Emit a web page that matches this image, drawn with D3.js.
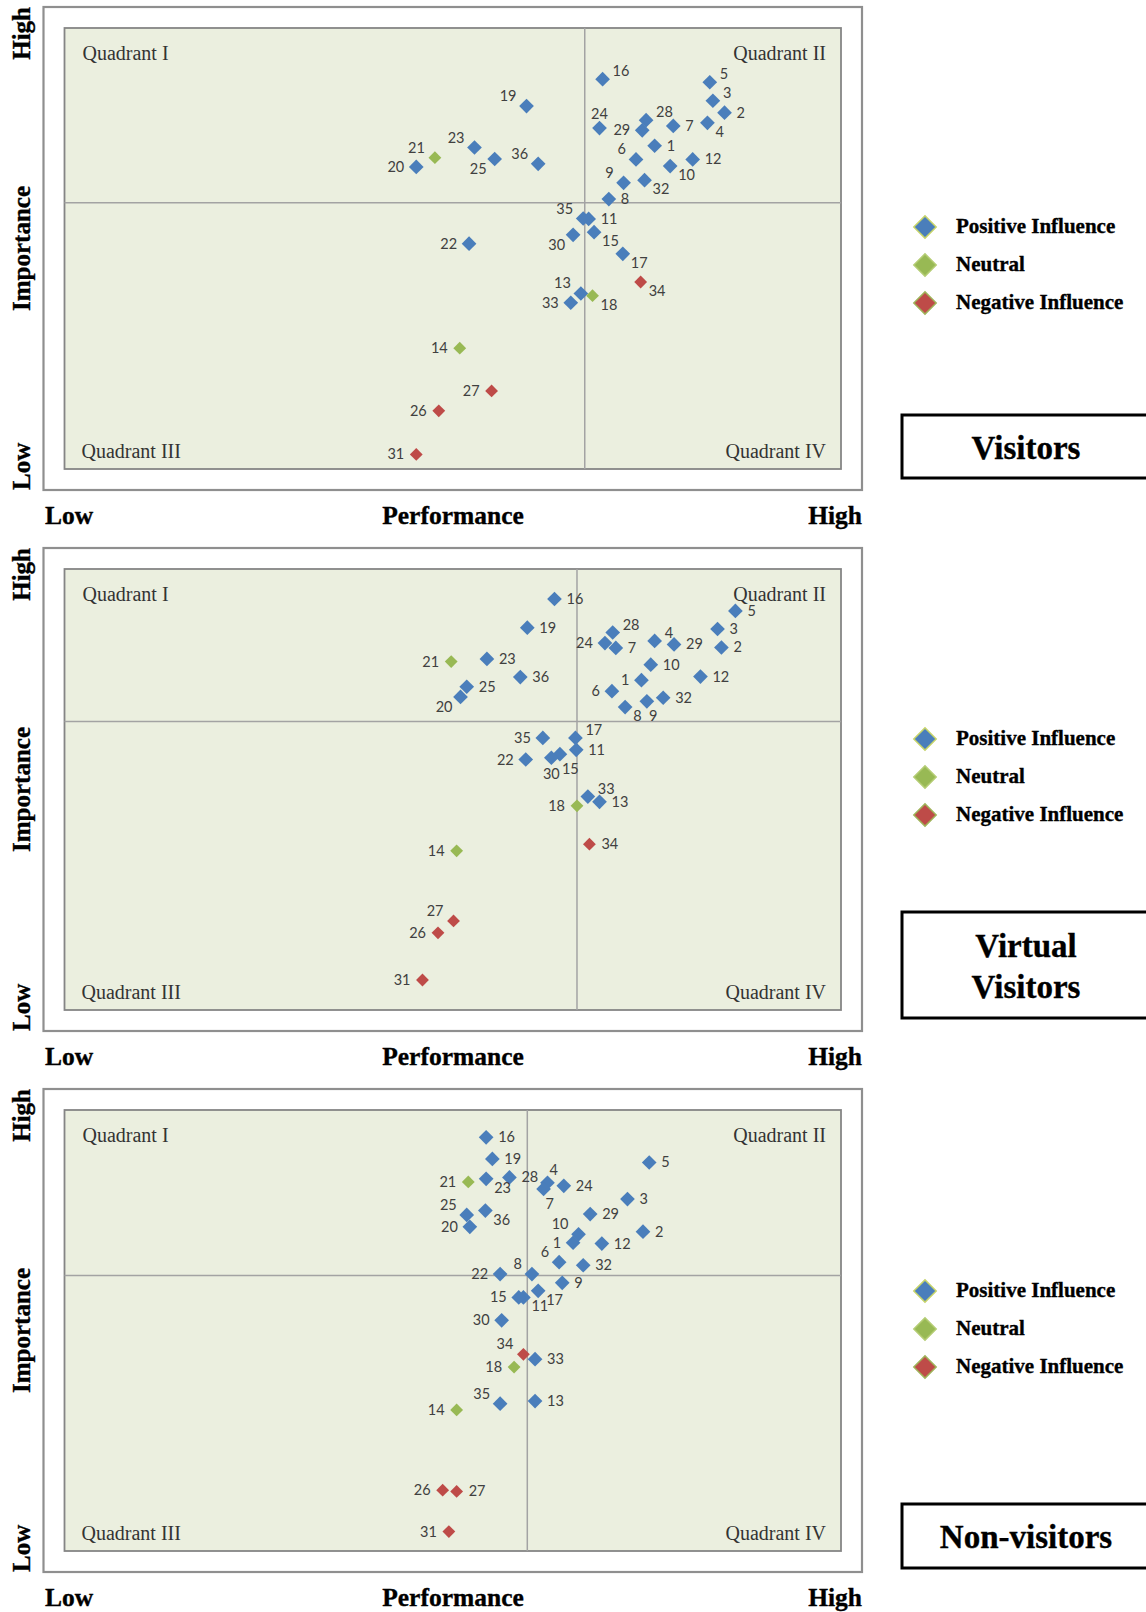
<!DOCTYPE html>
<html>
<head>
<meta charset="utf-8">
<script src="https://cdn.jsdelivr.net/npm/d3@7/dist/d3.min.js"></script>
<style>
  body { margin: 0; background: #fff; }
  .serif { font-family: "Liberation Serif", "Times New Roman", serif; }
  .head { font-weight: bold; fill: #000; stroke: #000; stroke-width: 0.35px; }
  .quad { font-size: 20px; fill: #333; }
  .pt-label { font-family: Lato, "Open Sans", sans-serif; font-size: 14.5px; fill: #404040; }
</style>
</head>
<body>
<script>
// items 1..36 and their influence group
var items = [1,2,3,4,5,6,7,8,9,10,11,12,13,14,15,16,17,18,19,20,21,22,23,24,25,26,27,28,29,30,31,32,33,34,35,36];
var influence = ["pos","pos","pos","pos","pos","pos","pos","pos","pos","pos","pos","pos","pos","neu","pos","pos","pos","neu",
                 "pos","pos","neu","pos","pos","pos","pos","neg","neg","pos","pos","pos","neg","pos","pos","neg","pos","pos"];
var groups = ["pos","neu","neg"];
var groupNames = ["Positive Influence","Neutral","Negative Influence"];

// performance / importance index (0 = low, 100 = high)
var visitorsPerf = [76.0,85.0,83.5,82.8,83.1,73.6,78.4,70.1,72.0,78.0,67.5,80.9,66.5,50.9,68.2,69.3,71.9,68.0,
                    59.5,45.3,47.7,52.1,52.8,68.9,55.4,48.2,55.0,74.9,74.4,65.5,45.3,74.7,65.2,74.2,66.8,61.0];
var visitorsImp  = [73.3,80.8,83.5,78.5,87.7,70.2,77.8,61.2,64.9,68.7,56.7,70.2,39.8,27.4,53.7,88.4,48.8,39.3,
                    82.3,68.5,70.6,51.1,72.9,77.3,70.3,13.2,17.7,79.1,76.8,53.1,3.3,65.5,37.7,42.4,56.8,69.2];
var visitorsMean = [67.0, 60.4];

var virtualPerf = [74.3,84.6,84.1,76.0,86.4,70.5,71.0,72.2,75.0,75.5,65.9,81.9,68.9,50.5,63.8,63.1,65.8,66.0,
                   59.6,51.0,49.8,59.4,54.4,69.6,51.8,48.1,50.1,70.6,78.5,62.7,46.1,77.1,67.4,67.6,61.6,58.7];
var virtualImp  = [74.8,82.2,86.4,83.7,90.5,72.3,82.1,68.7,70.0,78.3,59.0,75.6,47.2,36.1,58.0,93.2,61.7,46.3,
                   86.7,71.0,79.0,56.8,79.6,83.2,73.3,17.5,20.2,85.6,82.9,57.2,6.8,70.8,48.4,37.6,61.7,75.5];
var virtualMean = [66.0, 65.4];

var nonPerf = [65.5,74.5,72.5,62.2,75.3,63.7,61.7,60.2,64.1,66.2,59.1,69.2,60.6,50.5,58.5,54.3,61.0,57.9,
               55.1,52.2,52.0,56.1,54.3,64.3,51.8,48.7,50.5,57.3,67.7,56.3,49.5,66.8,60.6,59.1,56.1,54.2];
var nonImp  = [69.9,72.4,79.8,83.5,88.1,65.5,82.1,62.8,60.8,71.8,57.5,69.7,34.0,32.0,57.5,93.8,59.0,41.7,
               88.9,73.5,83.7,62.8,84.4,82.8,76.2,13.8,13.5,84.7,76.4,52.3,4.4,64.8,43.5,44.6,33.4,77.2];
var nonMean = [59.6, 62.5];

// where each item number sits next to its marker
var visitorsPlace = ["R","R","UR","BR","UR","UL","R","R","UL","BR","R","R","UL","L","BR","UR","BR","BR",
                     "UL","L","UL","L","UL","T","BL","L","L","UR","L","BL","L","BR","L","BR","UL","UL"];
var virtualPlace  = ["L","R","R","UR","R","L","R","BR","BD","R","R","R","R","L","BD","R","UR","L",
                     "R","BL","L","L","R","L","R","L","UL","UR","R","B","L","R","UR","R","L","R"];
var nonPlace      = ["L","R","R","TR","R","UL","BD","UL","R","UL","BR","R","R","L","L","R","BR","L",
                     "R","L","L","L","BR","R","UL","L","R","R","R","L","L","R","R","UL","UL","BR"];

var colors = { pos: "#4A7EBB", neu: "#98B954", neg: "#BE4B48" };
var offsets = {
  R: [12, 5, "start"], L: [-12, 5, "end"],
  UR: [10, -3, "start"], UL: [-10, -5, "end"],
  BR: [8, 14, "start"], BL: [-8, 15, "end"],
  T: [0, -9, "middle"], B: [0, 21, "middle"],
  TR: [2, -8, "start"], BD: [2, 20, "start"]
};

var panels = [
  { title: ["Visitors"], perf: visitorsPerf, imp: visitorsImp, mean: visitorsMean, place: visitorsPlace,
    top: 7, legendY: 227, boxY: 415, boxH: 63 },
  { title: ["Virtual", "Visitors"], perf: virtualPerf, imp: virtualImp, mean: virtualMean, place: virtualPlace,
    top: 548, legendY: 739, boxY: 912, boxH: 106 },
  { title: ["Non-visitors"], perf: nonPerf, imp: nonImp, mean: nonMean, place: nonPlace,
    top: 1089, legendY: 1291, boxY: 1504, boxH: 64 }
];

var width = 1146, height = 1612;
var frame = { left: 43.5, right: 862, height: 483 };
var inner = { left: 64.5, right: 841, top: 21, height: 441 };

var svg = d3.select("body").append("svg")
  .attr("width", width).attr("height", height)
  .style("display", "block");

panels.forEach(function(p) {
  var g = svg.append("g");
  var innerTop = p.top + inner.top, innerBottom = innerTop + inner.height;

  var x = d3.scaleLinear().domain([0, 100]).range([inner.left, inner.right]);
  var y = d3.scaleLinear().domain([0, 100]).range([innerBottom, innerTop]);

  // outer frame
  g.append("rect")
    .attr("x", frame.left).attr("y", p.top)
    .attr("width", frame.right - frame.left).attr("height", frame.height)
    .style("fill", "#fff").style("stroke", "#8f8f8f").style("stroke-width", 2.2);

  // plot area
  g.append("rect")
    .attr("x", inner.left).attr("y", innerTop)
    .attr("width", inner.right - inner.left).attr("height", inner.height)
    .style("fill", "#EBEFDF").style("stroke", "#858585").style("stroke-width", 1.8);

  // quadrant dividers at the means
  g.append("line")
    .attr("x1", x(p.mean[0])).attr("x2", x(p.mean[0]))
    .attr("y1", innerTop).attr("y2", innerBottom)
    .style("stroke", "#a3a3a3").style("stroke-width", 1.5);
  g.append("line")
    .attr("x1", inner.left).attr("x2", inner.right)
    .attr("y1", y(p.mean[1])).attr("y2", y(p.mean[1]))
    .style("stroke", "#a3a3a3").style("stroke-width", 1.5);

  var quads = [
    ["Quadrant I", inner.left + 18, innerTop + 32, "start"],
    ["Quadrant II", inner.right - 15, innerTop + 32, "end"],
    ["Quadrant III", inner.left + 17, innerBottom - 11, "start"],
    ["Quadrant IV", inner.right - 15, innerBottom - 11, "end"]
  ];
  g.selectAll("text.quad").data(quads).enter().append("text")
    .attr("class", "quad serif")
    .attr("x", function(d) { return d[1]; })
    .attr("y", function(d) { return d[2]; })
    .attr("text-anchor", function(d) { return d[3]; })
    .text(function(d) { return d[0]; });

  // points, drawn group by group
  var pts = items.map(function(id, i) {
    return { id: id, grp: influence[i], perf: p.perf[i], imp: p.imp[i], place: p.place[i] };
  });
  pts.sort(function(a, b) { return groups.indexOf(a.grp) - groups.indexOf(b.grp); });

  var diamond = d3.symbol().type(d3.symbolSquare);
  g.selectAll("path.pt").data(pts).enter().append("path")
    .attr("class", "pt")
    .attr("d", function(d) { return diamond.size(d.grp == "pos" ? 108 : 82)(); })
    .attr("transform", function(d) { return "translate(" + x(d.perf) + "," + y(d.imp) + ") rotate(45)"; })
    .style("fill", function(d) { return colors[d.grp]; });

  g.selectAll("text.pt-label").data(pts).enter().append("text")
    .attr("class", "pt-label")
    .attr("x", function(d) { return x(d.perf) + offsets[d.place][0]; })
    .attr("y", function(d) { return y(d.imp) + offsets[d.place][1]; })
    .attr("text-anchor", function(d) { return offsets[d.place][2]; })
    .text(function(d) { return d.id; });

  // axis words
  var bottom = p.top + frame.height;
  var vert = [["High", p.top, "end"], ["Importance", p.top + frame.height / 2, "middle"], ["Low", bottom, "start"]];
  g.selectAll("text.vert").data(vert).enter().append("text")
    .attr("class", "vert serif head")
    .attr("transform", function(d) { return "translate(30," + d[1] + ") rotate(-90)"; })
    .attr("text-anchor", function(d) { return d[2]; })
    .style("font-size", "25px")
    .text(function(d) { return d[0]; });

  var horiz = [["Low", 45, "start"], ["Performance", 453, "middle"], ["High", 862, "end"]];
  g.selectAll("text.horiz").data(horiz).enter().append("text")
    .attr("class", "horiz serif head")
    .attr("x", function(d) { return d[1]; })
    .attr("y", bottom + 34)
    .attr("text-anchor", function(d) { return d[2]; })
    .style("font-size", "25.5px")
    .text(function(d) { return d[0]; });

  // legend
  var leg = g.append("g").attr("transform", "translate(925," + p.legendY + ")");
  groups.forEach(function(k, i) {
    leg.append("path")
      .attr("d", d3.symbol().type(d3.symbolSquare).size(250)())
      .attr("transform", "translate(0," + (i * 38) + ") rotate(45)")
      .style("fill", colors[k])
      .style("stroke", k == "pos" ? "#c6d36a" : (k == "neu" ? "#b4cc74" : "#9fb25a"))
      .style("stroke-width", 1.5);
    leg.append("text")
      .attr("class", "serif head")
      .attr("x", 31).attr("y", i * 38 + 6)
      .style("font-size", "21px")
      .text(groupNames[i]);
  });

  // group title box
  g.append("rect")
    .attr("x", 902).attr("y", p.boxY)
    .attr("width", 260).attr("height", p.boxH)
    .style("fill", "none").style("stroke", "#000").style("stroke-width", 3);
  var lines = p.title.length;
  p.title.forEach(function(t, i) {
    g.append("text")
      .attr("class", "serif head")
      .attr("x", 1026)
      .attr("y", p.boxY + p.boxH / 2 + 12 + (i - (lines - 1) / 2) * 41)
      .attr("text-anchor", "middle")
      .style("font-size", "33px")
      .text(t);
  });
});
</script>
</body>
</html>
